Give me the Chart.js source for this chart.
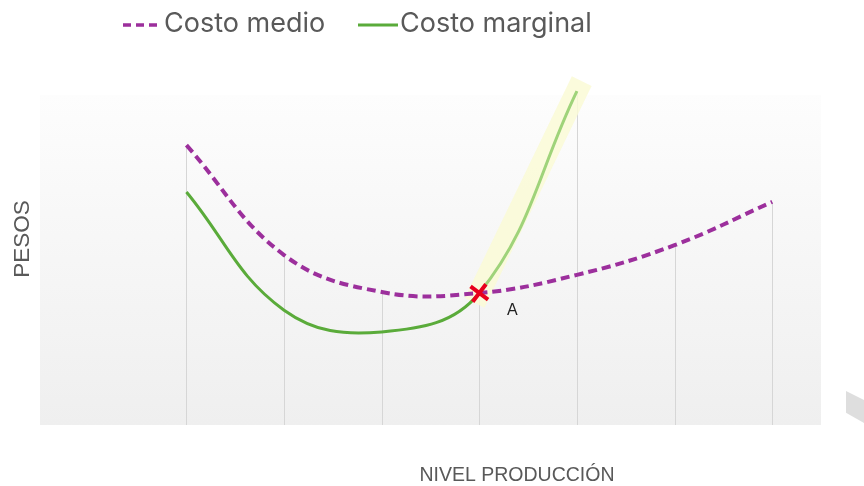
<!DOCTYPE html>
<html>
<head>
<meta charset="utf-8">
<script src="https://cdn.jsdelivr.net/npm/chart.js@4.4.1/dist/chart.umd.min.js"></script>
<style>
  html, body { margin: 0; padding: 0; background: #fff; }
  #wrap { position: relative; width: 864px; height: 486px; }
  /* grey slide ornament on the right edge */
  #corner {
    position: absolute; left: 846px; top: 391px; width: 18px; height: 32px;
    background: #dedede;
    clip-path: polygon(0 0, 100% 28%, 100% 100%, 0 68%);
  }
</style>
</head>
<body>
<div id="wrap">
  <canvas id="myChart" width="864" height="486"></canvas>
  <div id="corner"></div>
</div>
<script>
// production levels (x positions) and cost values
const niveles = [1, 2, 3, 4, 5, 6, 7];
const costoMedio = [84.8, 51.5, 40.3, 40.0, 45.5, 54.5, 67.6];
const costoMarginal = [70.6, 34.8, 28.2, 40.0, 101.2, null, null];
// point where both curves meet
const puntoA = 3; // index into niveles
const etiquetaA = "A";

const LEGEND_FONT = "Inter, sans-serif";
const AXIS_FONT = "'Liberation Sans', Arial, sans-serif";
const TEXT = "#595959";
const PURPLE = "#9c2f9c";
const GREEN = "#5aab3a";
const GREEN_LIGHT = "#9fd37a";

const toPoints = (vals) => niveles.map((x, i) => ({ x: x, y: vals[i] }));

// the rising stretch of marginal cost after point A
const tramoSubida = costoMarginal.map((v, i) => (i >= puntoA ? v : null));

// plot background: soft grey gradient
const plotBackground = {
  id: "plotBackground",
  beforeDraw(chart) {
    const { ctx, chartArea: a } = chart;
    const g = ctx.createLinearGradient(0, a.top, 0, a.bottom);
    g.addColorStop(0, "#fdfdfd");
    g.addColorStop(1, "#efefef");
    ctx.save();
    ctx.fillStyle = g;
    ctx.fillRect(a.left, a.top, a.right - a.left, a.bottom - a.top);
    ctx.restore();
  },
};

// vertical drop lines from the highest curve down to the base
const dropLines = {
  id: "dropLines",
  beforeDatasetsDraw(chart) {
    const { ctx, chartArea: a } = chart;
    const metas = [chart.getDatasetMeta(0), chart.getDatasetMeta(1)];
    ctx.save();
    ctx.strokeStyle = "#d6d6d6";
    ctx.lineWidth = 1;
    niveles.forEach((x, i) => {
      let top = Infinity;
      let px = null;
      metas.forEach((m) => {
        const p = m.data[i];
        if (p && !p.skip && isFinite(p.y)) {
          top = Math.min(top, p.y);
          px = p.x;
        }
      });
      if (px === null) return;
      ctx.beginPath();
      ctx.moveTo(Math.round(px) + 0.5, top);
      ctx.lineTo(Math.round(px) + 0.5, a.bottom);
      ctx.stroke();
    });
    ctx.restore();
  },
};

// legend, axis titles and the "A" label
const textLayer = {
  id: "textLayer",
  afterDraw(chart) {
    const { ctx } = chart;
    ctx.save();
    ctx.fillStyle = TEXT;
    ctx.textBaseline = "middle";
    ctx.font = "27px " + LEGEND_FONT;

    // legend
    ctx.lineWidth = 3.5;
    ctx.strokeStyle = PURPLE;
    ctx.setLineDash([8, 5]);
    ctx.beginPath();
    ctx.moveTo(123, 25);
    ctx.lineTo(161, 25);
    ctx.stroke();
    ctx.setLineDash([]);
    ctx.fillText("Costo medio", 164, 24);

    ctx.lineWidth = 3;
    ctx.strokeStyle = GREEN;
    ctx.beginPath();
    ctx.moveTo(358, 25);
    ctx.lineTo(398, 25);
    ctx.stroke();
    ctx.fillText("Costo marginal", 400, 24);

    // axis titles
    ctx.textAlign = "center";
    ctx.font = "19.5px " + AXIS_FONT;
    ctx.fillText("NIVEL PRODUCCIÓN", 517, 476);

    ctx.translate(23, 239);
    ctx.rotate(-Math.PI / 2);
    ctx.font = "22.5px " + AXIS_FONT;
    ctx.fillText("PESOS", 0, 0);
    ctx.restore();

    // label next to the crossing point
    const p = chart.getDatasetMeta(0).data[puntoA];
    ctx.save();
    ctx.fillStyle = "#222";
    ctx.font = "16px " + AXIS_FONT;
    ctx.textAlign = "center";
    ctx.textBaseline = "middle";
    ctx.fillText(etiquetaA, p.x + 33, p.y + 18);
    ctx.restore();
  },
};

const ctx = document.getElementById("myChart");
new Chart(ctx, {
  type: "line",
  data: {
    datasets: [
      {
        label: "Costo medio",
        data: toPoints(costoMedio),
        borderColor: PURPLE,
        borderWidth: 4,
        borderDash: [9, 5],
        tension: 0.4,
        pointRadius: 0,
        order: 1,
      },
      {
        label: "Costo marginal",
        data: toPoints(costoMarginal),
        borderColor: GREEN,
        borderWidth: 3,
        tension: 0.4,
        pointRadius: 0,
        order: 2,
        segment: {
          borderColor: (c) => (c.p0DataIndex >= puntoA ? GREEN_LIGHT : GREEN),
        },
      },
      {
        label: "resaltado",
        data: toPoints(tramoSubida),
        borderColor: "rgba(250, 250, 214, 0.85)",
        borderWidth: 22,
        borderCapStyle: "square",
        tension: 0.4,
        pointRadius: 0,
        order: 3,
      },
      {
        label: "A",
        data: [{ x: niveles[puntoA], y: costoMedio[puntoA] }],
        showLine: false,
        pointStyle: "crossRot",
        pointRadius: 11,
        pointBorderWidth: 4,
        pointBorderColor: "#e8001c",
        pointRotation: -8,
        order: 0,
      },
    ],
  },
  options: {
    responsive: false,
    animation: false,
    layout: { padding: { left: 40, right: 43, top: 95, bottom: 61 } },
    scales: {
      x: { type: "linear", min: -0.5, max: 7.5, display: false },
      y: { min: 0, max: 100, display: false },
    },
    plugins: {
      legend: { display: false },
      tooltip: { enabled: false },
    },
    clip: false,
  },
  plugins: [plotBackground, dropLines, textLayer],
});
</script>
</body>
</html>
